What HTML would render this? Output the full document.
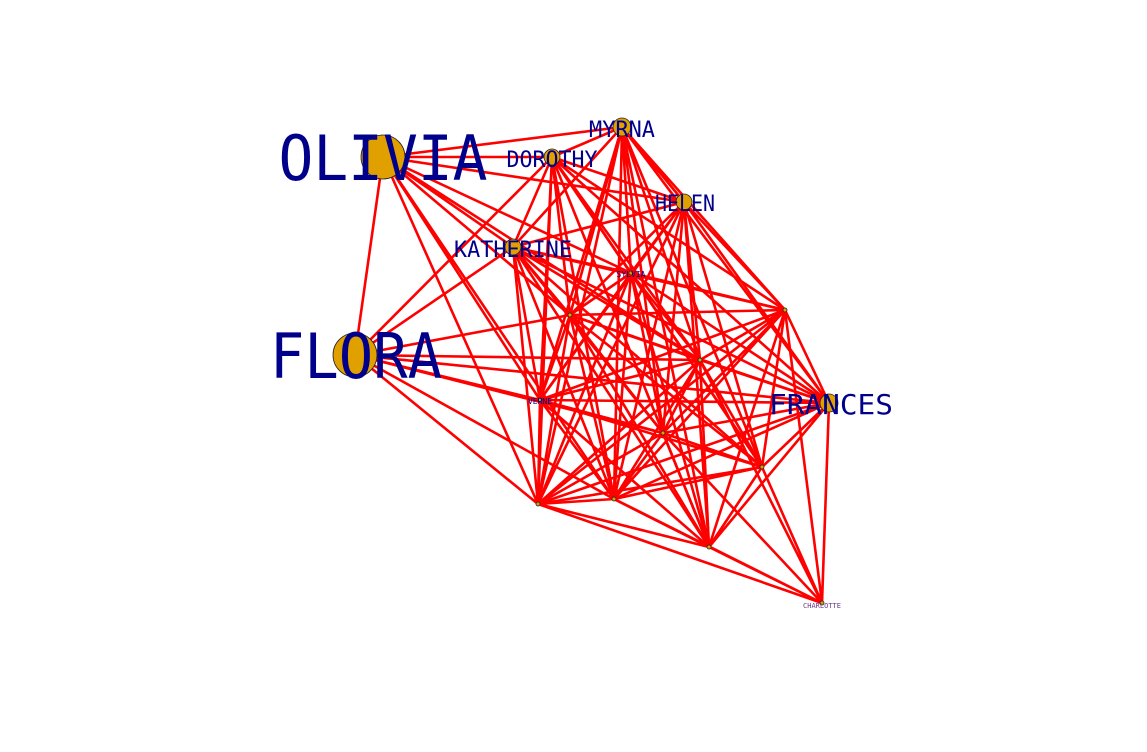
<!DOCTYPE html>
<html><head><meta charset="utf-8"><style>html,body{margin:0;padding:0;background:#fff}svg{display:block}</style></head>
<body>
<svg width="1147" height="752" xmlns="http://www.w3.org/2000/svg">
<g fill="none" stroke="#ff0000" stroke-width="2.6">
<path d="M622 127L552 157M622 127L684 202M622 127L513 247M622 127L631 273M622 127L570 315M622 127L785 310M622 127L540 400M622 127L700 360M622 127L663 433M622 127L762 467M622 127L538 504M622 127L614 499M622 127L709 547M622 127L829 403"/>
<path d="M552 157L684 202M552 157L513 247M552 157L631 273M552 157L570 315M552 157L785 310M552 157L540 400M552 157L700 360M552 157L663 433M552 157L762 467M552 157L538 504M552 157L614 499M552 157L709 547M552 157L829 403"/>
<path d="M684 202L513 247M684 202L631 273M684 202L570 315M684 202L785 310M684 202L540 400M684 202L700 360M684 202L663 433M684 202L762 467M684 202L538 504M684 202L614 499M684 202L709 547M684 202L829 403"/>
<path d="M513 247L631 273M513 247L570 315M513 247L785 310M513 247L540 400M513 247L700 360M513 247L663 433M513 247L762 467M513 247L538 504M513 247L614 499M513 247L709 547M513 247L829 403"/>
<path d="M631 273L570 315M631 273L785 310M631 273L540 400M631 273L700 360M631 273L663 433M631 273L762 467M631 273L538 504M631 273L614 499M631 273L709 547M631 273L829 403"/>
<path d="M570 315L785 310M570 315L540 400M570 315L700 360M570 315L663 433M570 315L762 467M570 315L538 504M570 315L614 499M570 315L709 547M570 315L829 403"/>
<path d="M785 310L540 400M785 310L700 360M785 310L663 433M785 310L762 467M785 310L538 504M785 310L614 499M785 310L709 547M785 310L829 403"/>
<path d="M540 400L700 360M540 400L663 433M540 400L762 467M540 400L538 504M540 400L614 499M540 400L709 547M540 400L829 403"/>
<path d="M700 360L663 433M700 360L762 467M700 360L538 504M700 360L614 499M700 360L709 547M700 360L829 403"/>
<path d="M663 433L762 467M663 433L538 504M663 433L614 499M663 433L709 547M663 433L829 403"/>
<path d="M762 467L538 504M762 467L614 499M762 467L709 547M762 467L829 403"/>
<path d="M538 504L614 499M538 504L709 547M538 504L829 403M614 499L709 547M614 499L829 403M709 547L829 403"/>
<path d="M383 157L355 355M383 157L622 127M383 157L552 157M383 157L684 202M383 157L513 247M383 157L631 273M383 157L570 315M383 157L540 400M383 157L538 504M383 157L614 499M383 157L700 360"/>
<path d="M355 355L513 247M355 355L570 315M355 355L700 360M355 355L663 433M355 355L540 400M355 355L829 403M355 355L538 504M355 355L614 499M355 355L552 157"/>
<path d="M822 603L829 403M822 603L709 547M822 603L538 504M822 603L614 499M822 603L663 433M822 603L762 467M822 603L785 310M822 603L700 360"/>
</g>
<g fill="#e0a000" stroke="#222" stroke-width="0.8">
<circle cx="383" cy="157" r="22"/><circle cx="355" cy="355" r="22"/>
<circle cx="622" cy="127" r="9"/><circle cx="552" cy="157" r="8"/><circle cx="684" cy="202" r="8"/>
<circle cx="513" cy="247" r="8"/><circle cx="829" cy="403" r="9"/>
<circle cx="631" cy="273" r="2"/><circle cx="570" cy="315" r="2"/><circle cx="785" cy="310" r="2"/>
<circle cx="540" cy="400" r="2"/><circle cx="700" cy="360" r="2"/><circle cx="663" cy="433" r="2"/>
<circle cx="762" cy="467" r="2"/><circle cx="538" cy="504" r="2"/><circle cx="614" cy="499" r="2"/>
<circle cx="709" cy="547" r="2"/><circle cx="822" cy="603" r="2"/>
</g>
<g font-family="'DejaVu Sans Mono','Liberation Mono',monospace" fill="#00008b" text-anchor="middle">
<text x="383" y="180" font-size="62" textLength="209" lengthAdjust="spacingAndGlyphs">OLIVIA</text>
<text x="356" y="378" font-size="62" textLength="172" lengthAdjust="spacingAndGlyphs">FLORA</text>
<text x="622" y="137" font-size="22" textLength="66" lengthAdjust="spacingAndGlyphs">MYRNA</text>
<text x="552" y="167" font-size="22" textLength="91" lengthAdjust="spacingAndGlyphs">DOROTHY</text>
<text x="685" y="211" font-size="22" textLength="60" lengthAdjust="spacingAndGlyphs">HELEN</text>
<text x="513" y="257" font-size="22" textLength="118" lengthAdjust="spacingAndGlyphs">KATHERINE</text>
<text x="831" y="414" font-size="28" textLength="124" lengthAdjust="spacingAndGlyphs">FRANCES</text>
<text x="631" y="277" font-size="8">SYLVIA</text>
<text x="540" y="404" font-size="8">VERNE</text>
<text x="822" y="608" font-size="7" fill="#6a3a8a">CHARLOTTE</text>
</g>
</svg>
</body></html>
